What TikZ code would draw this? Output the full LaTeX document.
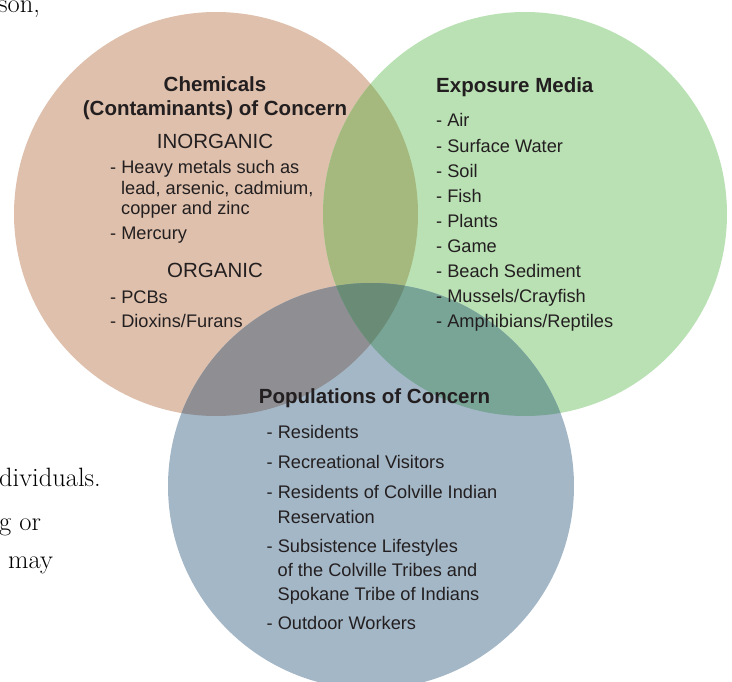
\documentclass[tikz,border=0pt]{standalone}
\usepackage{fontspec}
\newfontfamily\vennfont{Liberation Sans}
\usetikzlibrary{positioning}

\definecolor{chemfill}{HTML}{DEC0AC}
\definecolor{mediafill}{HTML}{BAE1B4}
\definecolor{popfill}{HTML}{A4B7C7}
\definecolor{chemmedia}{HTML}{A5B97E}
\definecolor{chempop}{HTML}{8E8E93}
\definecolor{mediapop}{HTML}{79A597}
\definecolor{allthree}{HTML}{6A8C77}
\definecolor{inktext}{HTML}{231F20}

\begin{document}
\begin{tikzpicture}[x=1pt, y=1pt,
    heading/.style={font=\vennfont\bfseries\fontsize{20.5}{24}\selectfont, text=inktext, inner sep=0, anchor=base},
    group/.style={font=\vennfont\fontsize{20.5}{24}\selectfont, text=inktext, inner sep=0, anchor=base},
    entry/.style={font=\vennfont\fontsize{18.2}{22}\selectfont, text=inktext, inner sep=0, anchor=base west},
    wrapped/.style={entry, xshift=11pt},
    pagetext/.style={font=\fontsize{26.5}{30}\selectfont, text=black, inner sep=0, anchor=base west}]

    \useasboundingbox (0,0) rectangle (732,-682);
    \clip (0,0) rectangle (732,-682);

    % centres of the three sets
    \coordinate (chem) at (216,-214);
    \coordinate (media) at (525,-214);
    \coordinate (pop) at (371,-486);

    \fill[chemfill] (chem) circle (202pt);
    \fill[mediafill] (media) circle (202pt);
    \fill[popfill] (pop) circle (203pt);

    % overlaps
    \begin{scope}
      \clip (chem) circle (202pt);
      \fill[chemmedia] (media) circle (202pt);
      \fill[chempop] (pop) circle (203pt);
    \end{scope}
    \begin{scope}
      \clip (media) circle (202pt);
      \fill[mediapop] (pop) circle (203pt);
    \end{scope}
    \begin{scope}
      \clip (chem) circle (202pt);
      \clip (media) circle (202pt);
      \fill[allthree] (pop) circle (203pt);
    \end{scope}

    % body text of the page around the figure
    \node[pagetext] (frag-a) at (-2,-13) {son,};
    \node[pagetext] (frag-b) at (-1,-486) {dividuals.};
    \node[pagetext] (frag-c) at (-1,-530) {g or};
    \node[pagetext] (frag-d) at (8,-568) {may};

    % chemicals
    \node[heading] (chem-title) at (215,-92) {Chemicals};
    \node[heading] (chem-sub) at (215,-116) {(Contaminants) of Concern};
    \node[group] (inorg) at (215,-149) {INORGANIC};
    \node[entry] (chem-1) at (110,-174) {- Heavy metals such as};
    \node[wrapped] (chem-1b) at (110,-195) {lead, arsenic, cadmium,};
    \node[wrapped] (chem-1c) at (110,-215) {copper and zinc};
    \node[entry] (chem-2) at (110,-240) {- Mercury};
    \node[group] (org) at (215,-278) {ORGANIC};
    \node[entry] (chem-3) at (110,-303) {- PCBs};
    \node[entry] (chem-4) at (110,-327) {- Dioxins/Furans};

    % exposure media
    \node[heading, anchor=base west] (media-title) at (436,-93) {Exposure Media};
    \foreach \t [count=\i] in {Air, Surface Water, Soil, Fish, Plants, Game,
        Beach Sediment, Mussels/Crayfish, Amphibians/Reptiles}
      \node[entry] (media-\i) at (436,{-127-25.1*(\i-1)}) {- \t};

    % populations
    \node[heading] (pop-title) at (374.5,-403) {Populations of Concern};
    \node[entry] (pop-1) at (266.5,-438) {- Residents};
    \node[entry] (pop-2) at (266.5,-468) {- Recreational Visitors};
    \node[entry] (pop-3) at (266.5,-498) {- Residents of Colville Indian};
    \node[wrapped] (pop-3b) at (266.5,-523) {Reservation};
    \node[entry] (pop-4) at (266.5,-552) {- Subsistence Lifestyles};
    \node[wrapped] (pop-4b) at (266.5,-576) {of the Colville Tribes and};
    \node[wrapped] (pop-4c) at (266.5,-600) {Spokane Tribe of Indians};
    \node[entry] (pop-5) at (266.5,-629) {- Outdoor Workers};
\end{tikzpicture}
\end{document}
